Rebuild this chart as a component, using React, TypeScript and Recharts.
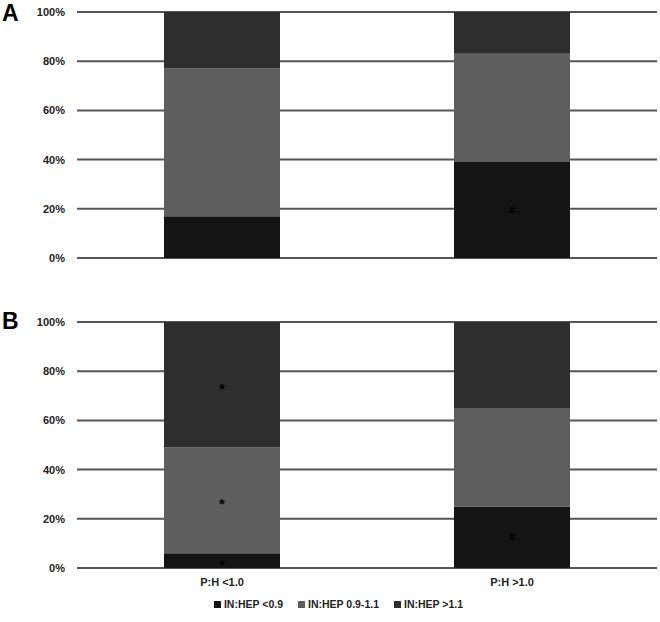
import React from "react";
import { BarChart, Bar, XAxis, YAxis, CartesianGrid, LabelList, Legend } from "recharts";

const categories = ["P:H <1.0", "P:H >1.0"];
const seriesNames = ["IN:HEP <0.9", "IN:HEP 0.9-1.1", "IN:HEP >1.1"];
const colors = ["#141414", "#5e5e5e", "#2e2e2e"];

const aLow = [17, 39];
const aMid = [60, 44];
const aHigh = [23, 17];
const aLowNote = ["", "#"];
const aMidNote = ["", ""];
const aHighNote = ["", ""];

const bLow = [6, 25];
const bMid = [43, 40];
const bHigh = [51, 35];
const bLowNote = ["*", "#"];
const bMidNote = ["*", ""];
const bHighNote = ["*", ""];

const yTicks = [0, 20, 40, 60, 80, 100];

const dataA = categories.map((c, i) => ({
  cat: c, low: aLow[i], mid: aMid[i], high: aHigh[i],
  lowNote: aLowNote[i], midNote: aMidNote[i], highNote: aHighNote[i],
}));
const dataB = categories.map((c, i) => ({
  cat: c, low: bLow[i], mid: bMid[i], high: bHigh[i],
  lowNote: bLowNote[i], midNote: bMidNote[i], highNote: bHighNote[i],
}));

const FONT = "'Liberation Sans', Arial, sans-serif";
const tickStyle = { fontFamily: FONT, fontSize: 11, fontWeight: 700, fill: "#222" };

const LegendContent = () => (
  <div style={{ display: "flex", justifyContent: "center", gap: 15, fontFamily: FONT, fontSize: 10.5, fontWeight: 700, color: "#222", lineHeight: "24px", paddingLeft: 20 }}>
    {seriesNames.map((n, i) => (
      <span key={n} style={{ display: "inline-flex", alignItems: "center" }}>
        <span style={{ display: "inline-block", width: 7, height: 7, background: colors[i], marginRight: 3 }} />
        {n}
      </span>
    ))}
  </div>
);

const NoteLabel = (props: any) => {
  const { x, y, width, height, value } = props;
  if (!value) return null;
  const cx = x + width / 2;
  const cy = y + height / 2;
  const isStar = value === "*";
  return (
    <text x={cx} y={cy + (isStar ? 9 : 4)} textAnchor="middle" fontFamily={FONT} fontWeight={700} fontSize={isStar ? 15 : 11} fill="#000">
      {value}
    </text>
  );
};

function series() {
  const keys = ["low", "mid", "high"];
  return keys.map((k, i) => (
    <Bar key={k} dataKey={k} name={seriesNames[i]} stackId="s" fill={colors[i]} isAnimationActive={false}>
      <LabelList dataKey={k + "Note"} content={<NoteLabel />} />
    </Bar>
  ));
}

export default function App() {
  return (
    <div style={{ position: "absolute", left: 0, top: 0, width: 660, height: 622, background: "#fff" }}>
      <div style={{ position: "absolute", left: 2, top: 0, fontFamily: FONT, fontWeight: 700, fontSize: 23, lineHeight: "26px" }}>A</div>
      <div style={{ position: "absolute", left: 2, top: 308, fontFamily: FONT, fontWeight: 700, fontSize: 23, lineHeight: "26px" }}>B</div>
      <div style={{ position: "absolute", left: 0, top: 0 }}>
        <BarChart width={660} height={270} data={dataA} margin={{ top: 12, right: 3, bottom: 12, left: 0 }} barCategoryGap="30%">
          <CartesianGrid vertical={false} stroke="#555" strokeWidth={2} />
          <XAxis dataKey="cat" hide />
          <YAxis domain={[0, 100]} ticks={yTicks} tickFormatter={(v) => `${v}%`} width={77} axisLine={false} tickLine={false} tickMargin={6} tick={tickStyle} />
          {series()}
        </BarChart>
      </div>
      <div style={{ position: "absolute", left: 0, top: 300 }}>
        <BarChart width={660} height={322} data={dataB} margin={{ top: 22, right: 3, bottom: 6, left: 0 }} barCategoryGap="30%">
          <CartesianGrid vertical={false} stroke="#555" strokeWidth={2} />
          <XAxis dataKey="cat" height={24} axisLine={false} tickLine={false} tickMargin={4} tick={tickStyle} />
          <YAxis domain={[0, 100]} ticks={yTicks} tickFormatter={(v) => `${v}%`} width={77} axisLine={false} tickLine={false} tickMargin={6} tick={tickStyle} />
          <Legend verticalAlign="bottom" height={24} content={<LegendContent />} />
          {series()}
        </BarChart>
      </div>
    </div>
  );
}
